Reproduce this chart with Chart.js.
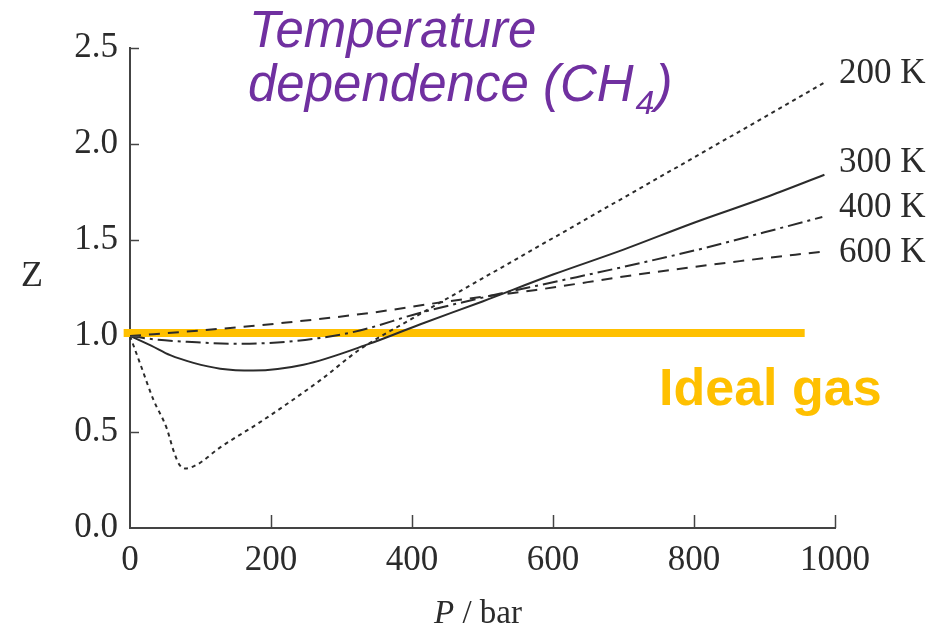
<!DOCTYPE html>
<html lang="en">
<head>
  <meta charset="UTF-8" />
  <title>Temperature dependence (CH4)</title>
  <script src="https://cdn.jsdelivr.net/npm/chart.js"></script>
  <style>
    html, body { margin: 0; padding: 0; background: #ffffff; }
    canvas { display: block; }
  </style>
</head>
<body>
  <canvas id="z-chart" width="933" height="633"></canvas>

  <script>
    // values (P in bar, Z dimensionless)
    const p200 = [0, 15, 33, 52, 62, 70, 78, 95, 128, 184, 270, 326, 400, 500, 600, 700, 800, 900, 985];
    const z200 = [1.00, 0.85, 0.67, 0.52, 0.40, 0.33, 0.31, 0.33, 0.42, 0.55, 0.77, 0.93, 1.09, 1.30, 1.51, 1.72, 1.93, 2.14, 2.32];

    const p300 = [0, 30, 57, 90, 128, 175, 246, 340, 411, 500, 600, 700, 800, 900, 985];
    const z300 = [1.00, 0.95, 0.90, 0.86, 0.83, 0.82, 0.85, 0.96, 1.06, 1.18, 1.32, 1.45, 1.59, 1.72, 1.84];

    const p400 = [0, 40, 81, 142, 222, 316, 411, 500, 600, 700, 817, 900, 982];
    const z400 = [1.00, 0.98, 0.97, 0.96, 0.97, 1.02, 1.12, 1.20, 1.28, 1.36, 1.46, 1.54, 1.62];

    const p600 = [0, 104, 222, 340, 450, 576, 720, 865, 983];
    const z600 = [1.00, 1.03, 1.07, 1.12, 1.18, 1.24, 1.32, 1.39, 1.44];

    const pIdeal = [-9, 957];
    const zIdeal = [1.015, 1.015];

    const xTicks = [0, 200, 400, 600, 800, 1000];
    const yTicks = [0, 0.5, 1.0, 1.5, 2.0, 2.5];

    const seriesLabels = ['200 K', '300 K', '400 K', '600 K'];
    const ink = '#2b2b2b';
    const serif = '"Liberation Serif", "DejaVu Serif", serif';
    const sans = '"Liberation Sans", Arial, sans-serif';

    const toPoints = (xs, ys) => xs.map((x, i) => ({ x: x, y: ys[i] }));

    const curve = (label, xs, ys, dash, width) => ({
      label: label,
      data: toPoints(xs, ys),
      borderColor: ink,
      borderWidth: width,
      borderDash: dash,
      pointRadius: 0,
      fill: false,
      cubicInterpolationMode: 'monotone'
    });

    // inside ticks + all the free text on the figure
    const decorations = {
      id: 'decorations',
      afterDatasetsDraw(chart) {
        const { ctx, chartArea: a, scales: { x, y } } = chart;
        ctx.save();
        ctx.strokeStyle = '#444';
        ctx.lineWidth = 1.5;
        xTicks.slice(1).forEach(v => {
          const px = Math.round(x.getPixelForValue(v)) + 0.5;
          ctx.beginPath();
          ctx.moveTo(px, a.bottom);
          ctx.lineTo(px, a.bottom - 13);
          ctx.stroke();
        });
        yTicks.slice(1).forEach(v => {
          const py = Math.round(y.getPixelForValue(v)) + 0.5;
          ctx.beginPath();
          ctx.moveTo(a.left, py);
          ctx.lineTo(a.left + 9, py);
          ctx.stroke();
        });

        // series labels at the right end
        ctx.fillStyle = ink;
        ctx.font = '35px ' + serif;
        ctx.textBaseline = 'middle';
        ctx.textAlign = 'left';
        const labelY = [74, 163, 208, 253];
        seriesLabels.forEach((t, i) => ctx.fillText(t, 839, labelY[i]));

        // axis titles
        ctx.font = '36px ' + serif;
        ctx.fillText('Z', 21, 277);
        ctx.textBaseline = 'alphabetic';
        ctx.font = 'italic 33px ' + serif;
        ctx.fillText('P', 434, 623);
        const pw = ctx.measureText('P').width;
        ctx.font = '33px ' + serif;
        ctx.fillText(' / bar', 434 + pw, 623);

        // purple heading
        ctx.fillStyle = '#7030a0';
        ctx.font = 'italic 51px ' + sans;
        ctx.fillText('Temperature', 249, 47);
        const line2 = 'dependence (CH';
        ctx.fillText(line2, 248, 101);
        const w = ctx.measureText(line2).width;
        ctx.font = 'italic 34px ' + sans;
        ctx.fillText('4', 248 + w + 2, 114);
        const w4 = ctx.measureText('4').width;
        ctx.font = 'italic 51px ' + sans;
        ctx.fillText(')', 248 + w + w4 + 3, 101);

        // ideal gas label
        ctx.fillStyle = '#ffc000';
        ctx.font = 'bold 52px ' + sans;
        ctx.fillText('Ideal gas', 659, 405);
        ctx.restore();
      }
    };

    const ctx = document.getElementById('z-chart').getContext('2d');

    new Chart(ctx, {
      type: 'line',
      data: {
        datasets: [
          curve('200 K', p200, z200, [4, 4], 2),
          curve('300 K', p300, z300, [], 2),
          curve('400 K', p400, z400, [15, 5, 3, 5], 2),
          curve('600 K', p600, z600, [11, 8], 2),
          {
            label: 'Ideal gas',
            data: toPoints(pIdeal, zIdeal),
            borderColor: '#ffc000',
            borderWidth: 8,
            borderCapStyle: 'butt',
            pointRadius: 0,
            fill: false,
            clip: false
          }
        ]
      },
      options: {
        responsive: false,
        animation: false,
        layout: { padding: { left: 0, right: 98, top: 48, bottom: 0 } },
        plugins: {
          legend: { display: false },
          tooltip: { enabled: false }
        },
        scales: {
          x: {
            type: 'linear',
            min: 0,
            max: 1000,
            afterFit: s => { s.height = 105; },
            afterBuildTicks: s => { s.ticks = xTicks.map(v => ({ value: v })); },
            grid: { display: false, drawTicks: false },
            border: { display: true, color: '#444', width: 2 },
            ticks: {
              padding: 12,
              color: ink,
              font: { family: serif, size: 35 },
              maxRotation: 0,
              callback: v => String(v)
            }
          },
          y: {
            min: 0,
            max: 2.5,
            afterFit: s => { s.width = 130; },
            afterBuildTicks: s => { s.ticks = yTicks.map(v => ({ value: v })); },
            grid: { display: false, drawTicks: false },
            border: { display: true, color: '#444', width: 2 },
            ticks: {
              padding: 12,
              color: ink,
              font: { family: serif, size: 35 },
              callback: v => v.toFixed(1)
            }
          }
        }
      },
      plugins: [decorations]
    });
  </script>
</body>
</html>
